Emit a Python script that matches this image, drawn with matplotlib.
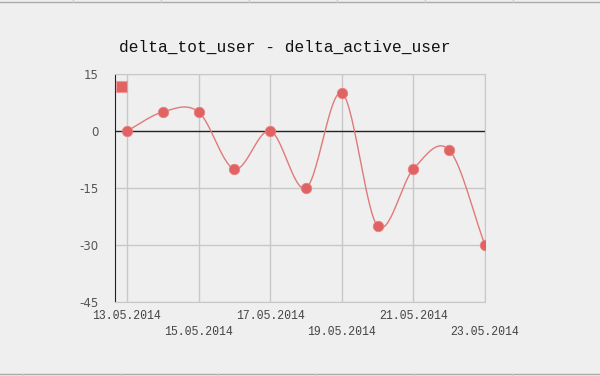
import numpy as np
import matplotlib
matplotlib.use('Agg')
import matplotlib.pyplot as plt
from matplotlib.lines import Line2D

# data
dates = ['13.05.2014', '14.05.2014', '15.05.2014', '16.05.2014', '17.05.2014', '18.05.2014',
         '19.05.2014', '20.05.2014', '21.05.2014', '22.05.2014', '23.05.2014']
values = [0, 5, 5, -10, 0, -15, 10, -25, -10, -5, -30]
y_ticks = [15, 0, -15, -30, -45]

RED = '#e06262'
BG = '#efefef'
W, H = 600, 376


def catmull_rom(x, y, n=30):
    # smooth curve through the points (same look as the original chart)
    x = np.asarray(x, float)
    y = np.asarray(y, float)
    px = np.concatenate([[2 * x[0] - x[1]], x, [2 * x[-1] - x[-2]]])
    py = np.concatenate([[2 * y[0] - y[1]], y, [2 * y[-1] - y[-2]]])
    xs, ys = [], []
    t = np.linspace(0, 1, n)
    for i in range(1, len(px) - 2):
        for p, out in ((px, xs), (py, ys)):
            p0, p1, p2, p3 = p[i - 1], p[i], p[i + 1], p[i + 2]
            seg = 0.5 * ((2 * p1) + (-p0 + p2) * t + (2 * p0 - 5 * p1 + 4 * p2 - p3) * t ** 2
                         + (-p0 + 3 * p1 - 3 * p2 + p3) * t ** 3)
            out.extend(seg)
    return np.array(xs), np.array(ys)


def main():
    fig = plt.figure(figsize=(W / 100, H / 100), dpi=100, facecolor=BG)
    ax = fig.add_axes([115 / W, 1 - 302 / H, 370 / W, 228 / H])
    ax.set_facecolor(BG)

    idx = np.arange(len(dates))
    ax.set_xlim(-12 / 35.8, idx[-1])
    ax.set_ylim(-45, 15)

    # grid
    for i in idx[::2]:
        ax.axvline(i, color='#c8c8c8', lw=1, zorder=1)
    for v in y_ticks:
        if v != 0:
            ax.axhline(v, color='#c8c8c8', lw=1, zorder=1)
    ax.axhline(0, color='#222222', lw=1, zorder=2)

    for s in ['top', 'right', 'bottom']:
        ax.spines[s].set_color('#c8c8c8')
    ax.spines['left'].set_color('#222222')

    cx, cy = catmull_rom(idx, values)
    ax.plot(cx, cy, color='#e07a7a', lw=1, zorder=3)
    ax.plot(idx, values, 'o', color=RED, ms=7.5, mec='#e88080', mew=0.6, zorder=4)

    ax.set_yticks(y_ticks)
    ax.set_yticklabels([str(v) for v in y_ticks], fontsize=8.5, color='#555555',
                       family='DejaVu Sans')
    ax.tick_params(axis='y', length=0, pad=12)

    # x labels on two alternating rows
    ax.set_xticks([])
    for k, i in enumerate(idx[::2]):
        row_y = -14 if k % 2 == 0 else -30
        ax.annotate(dates[i], (i, 0), xycoords=('data', 'axes fraction'),
                    xytext=(0, row_y), textcoords='offset pixels',
                    ha='center', va='center', fontsize=8.3,
                    family='Liberation Mono', color='#444444')

    # legend square
    fig.patches.append(plt.Rectangle((116 / W, 1 - 92 / H), 11 / W, 11 / H,
                                     transform=fig.transFigure, facecolor=RED,
                                     edgecolor='#ee9a9a', lw=0.8, zorder=5))

    fig.text(285 / W, 1 - 47 / H, 'delta_tot_user - delta_active_user',
             ha='center', va='center', fontsize=11.7, family='Liberation Mono',
             color='#111111')

    # page frame lines
    fig.add_artist(Line2D([0, 1], [1 - 2 / H, 1 - 2 / H], transform=fig.transFigure,
                          color='#aaaaaa', lw=1))
    for xp in [73, 161, 249, 337, 425, 513]:
        fig.add_artist(Line2D([xp / W, xp / W], [1 - 2 / H, 1], transform=fig.transFigure,
                              color='#cccccc', lw=1))
    fig.add_artist(Line2D([0, 1], [1 - 374 / H, 1 - 374 / H], transform=fig.transFigure,
                          color='#aaaaaa', lw=1))
    for xp in [23, 121, 218, 316, 414, 512]:
        fig.add_artist(Line2D([xp / W, xp / W], [0, 1 - 374 / H], transform=fig.transFigure,
                              color='#cccccc', lw=1))

    fig.savefig('out.png', dpi=100, facecolor=BG)


if __name__ == '__main__':
    main()
